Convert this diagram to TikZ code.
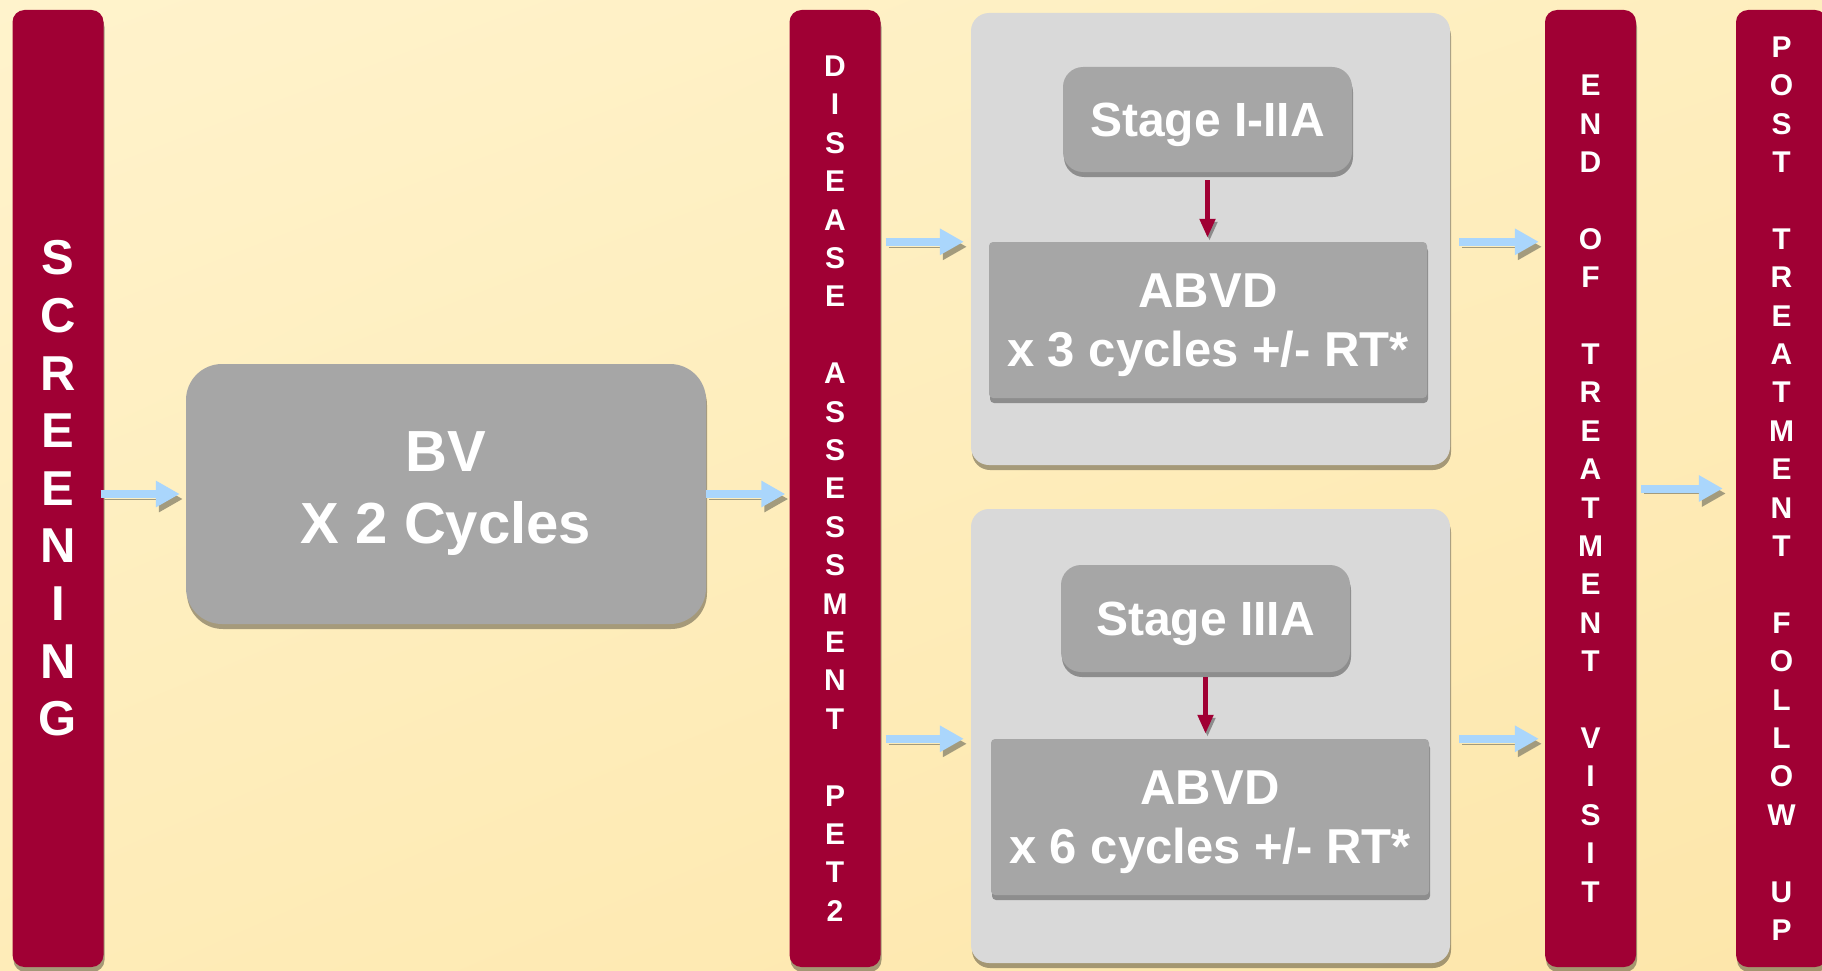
\documentclass[tikz,border=0pt]{standalone}
\usepackage{fontspec}
\setmainfont{Liberation Sans}
\usepackage{xcolor}
\usepackage{tikz}
\usetikzlibrary{arrows.meta,calc,shadows,shadings,positioning}

\definecolor{barred}{RGB}{160,0,52}
\definecolor{boxgray}{RGB}{166,166,166}
\definecolor{panelgray}{RGB}{217,217,217}
\definecolor{flowblue}{RGB}{170,214,252}
\definecolor{flowshade}{RGB}{163,155,125}
\definecolor{tipshade}{RGB}{140,140,140}
\definecolor{bgA}{RGB}{255,243,204}
\definecolor{bgB}{RGB}{254,238,190}
\definecolor{bgC}{RGB}{254,236,184}
\definecolor{bgD}{RGB}{253,230,170}

\tikzset{
	boxshadow/.style={drop shadow={shadow xshift=1pt,shadow yshift=-5pt,opacity=.35,fill=black}},
	stagebar/.style={fill=barred,rounded corners=12pt,minimum width=91pt,minimum height=957pt,
		inner sep=0pt,text=white,align=center,font=\fontsize{30}{38.4}\selectfont\bfseries,boxshadow},
	bvbox/.style={fill=boxgray,rounded corners=36pt,minimum width=520pt,minimum height=260pt,
		inner sep=0pt,text=white,align=center,font=\fontsize{58}{72}\selectfont\bfseries,boxshadow},
	panel/.style={fill=panelgray,rounded corners=18pt,minimum width=479pt,inner sep=0pt,boxshadow},
	stagebox/.style={fill=boxgray,rounded corners=20pt,minimum width=289pt,inner sep=0pt,text depth=0pt,
		text=white,font=\fontsize{48}{58}\selectfont\bfseries,boxshadow},
	regimen/.style={fill=boxgray,rounded corners=4pt,minimum width=438pt,minimum height=156pt,inner sep=0pt,
		text depth=0pt,text=white,align=center,font=\fontsize{49}{59}\selectfont\bfseries,boxshadow},
	flow/.style={line width=8pt,draw=flowblue,-{Triangle[length=24pt,width=25pt]},
		preaction={draw=flowshade,transform canvas={shift={(3pt,-5pt)}}}},
	down/.style={line width=5pt,draw=barred,-{Triangle[length=19pt,width=15pt]},
		preaction={draw=tipshade,transform canvas={shift={(2pt,-3pt)}}}}
}

\begin{document}
\begin{tikzpicture}[x=1pt,y=-1pt]
	\useasboundingbox (0,0) rectangle (1822,971);
	\shade[upper left=bgA,upper right=bgB,lower left=bgC,lower right=bgD] (0,0) rectangle (1822,971);

	% vertical bars
	\node[stagebar,font=\fontsize{49}{57.6}\selectfont\bfseries] (screen) at (58,488.5)
		{S\\C\\R\\E\\E\\N\\I\\N\\G};
	\node[stagebar] (pet) at (835,488.5)
		{D\\I\\S\\E\\A\\S\\E\\~\\A\\S\\S\\E\\S\\S\\M\\E\\N\\T\\~\\P\\E\\T\\2};
	\node[stagebar] (eot) at (1590.5,488.5)
		{E\\N\\D\\~\\O\\F\\~\\T\\R\\E\\A\\T\\M\\E\\N\\T\\~\\V\\I\\S\\I\\T};
	\node[stagebar] (post) at (1781.5,488.5)
		{P\\O\\S\\T\\~\\T\\R\\E\\A\\T\\M\\E\\N\\T\\~\\F\\O\\L\\L\\O\\W\\~\\U\\P};

	\node[bvbox] (bv) at (446,494) {BV\\X 2 Cycles};

	% the two treatment arms
	\node[panel,minimum height=452pt] (upper) at (1210.5,239) {};
	\node[panel,minimum height=454pt] (lower) at (1210.5,736) {};
	\node[stagebox,minimum height=105pt] (stageA) at (1207.5,119.5) {Stage I-IIA};
	\node[regimen] (abvdA) at (1208,320) {ABVD\\x 3 cycles +/- RT*};
	\node[stagebox,minimum height=107pt] (stageB) at (1205.5,618.5) {Stage IIIA};
	\node[regimen] (abvdB) at (1210,817) {ABVD\\x 6 cycles +/- RT*};

	\draw[down,shorten <=8pt,shorten >=4pt] (stageA.south) -- (stageA.south |- abvdA.north);
	\draw[down,shorten <=5pt,shorten >=5pt] (stageB.south) -- (stageB.south |- abvdB.north);

	% flow arrows
	\draw[flow,shorten <=-3pt,shorten >=6pt] (screen.east |- bv.west) -- (bv.west);
	\draw[flow,shorten >=4pt] (bv.east) -- (bv.east -| pet.west);
	\draw[flow,shorten <=5pt,shorten >=7pt] (pet.east |- abvdA.north) -- (upper.west |- abvdA.north);
	\draw[flow,shorten <=5pt,shorten >=7pt] (pet.east |- abvdB.north) -- (lower.west |- abvdB.north);
	\draw[flow,shorten <=9pt,shorten >=6pt] (upper.east |- abvdA.north) -- (eot.west |- abvdA.north);
	\draw[flow,shorten <=9pt,shorten >=6pt] (lower.east |- abvdB.north) -- (eot.west |- abvdB.north);
	\draw[flow,shorten <=5pt,shorten >=13pt] (eot.east) -- (post.west);
\end{tikzpicture}
\end{document}
